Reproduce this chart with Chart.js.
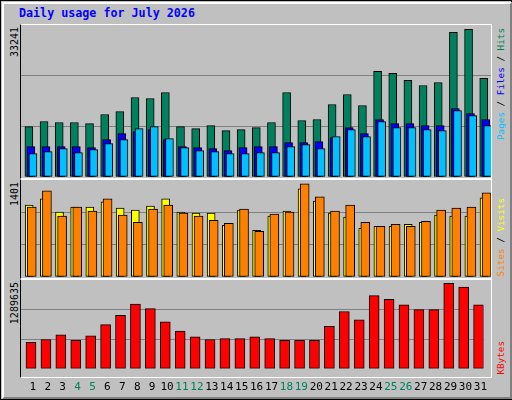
<!DOCTYPE html>
<html><head><meta charset="utf-8">
<script src="https://cdn.jsdelivr.net/npm/chart.js@4"></script>
<style>
body{margin:0;width:512px;height:400px;overflow:hidden;background:#C0C0C0;font-family:"DejaVu Sans Mono",monospace}
#frame{position:absolute;left:0;top:0;width:510px;height:398px;border:1px solid #000;background:#C0C0C0}
#bevel{position:absolute;left:1px;top:1px;width:506px;height:393px;border-top:2px solid #fff;border-left:2px solid #fff;border-right:2px solid #808080;border-bottom:2px solid #808080}
.panel{position:absolute;left:20px;width:470px;border-top:1px solid #fff;border-left:1px solid #000;border-right:1px solid #fff;border-bottom:1px solid #fff}
.cv{position:absolute;left:21px;width:470px}
.vt{position:absolute;writing-mode:vertical-rl;transform:rotate(180deg);white-space:nowrap}
#title{position:absolute;left:19px;top:6px;color:#0000FF;font-weight:bold;font-size:11.7px}
</style></head><body>
<div id="frame"><div id="bevel"></div></div>
<div id="title">Daily usage for July 2026</div>
<div class="panel" style="top:24px;height:153px"></div>
<div class="panel" style="top:179px;height:98px"></div>
<div class="panel" style="top:279px;height:97px"></div>
<div class="cv" style="top:25px;height:152px"><canvas id="c1"></canvas></div>
<div class="cv" style="top:180px;height:97px"><canvas id="c2"></canvas></div>
<div class="cv" style="top:280px;height:118px"><canvas id="c3"></canvas></div>
<div class="vt" style="left:9px;top:27px;font-size:10px">33241</div>
<div class="vt" style="left:9px;top:182px;font-size:10px">1401</div>
<div class="vt" style="left:9px;top:282px;font-size:10px">1289635</div>
<div class="vt" style="left:495px;top:28px;font-size:9.3px"><span style="color:#00C0FF">Pages</span> / <span style="color:#0000FF">Files</span> / <span style="color:#00805C">Hits</span></div>
<div class="vt" style="left:495px;top:198px;font-size:9.3px"><span style="color:#FF8000">Sites</span> / <span style="color:#FFFF00">Visits</span></div>
<div class="vt" style="left:495px;top:341px;font-size:9.3px"><span style="color:#FF0000">KBytes</span></div>
<script>
const days=[1,2,3,4,5,6,7,8,9,10,11,12,13,14,15,16,17,18,19,20,21,22,23,24,25,26,27,28,29,30,31];
const weekends=[4,5,11,12,18,19,25,26];
const hits=[11032,12128,11909,11909,11690,13662,14320,17388,17169,18484,11032,10594,11251,10155,10374,10813,11909,18484,12347,12566,15854,18046,15635,23087,22649,21114,20018,20676,31635,32292,21553];
const files=[6648,6648,6648,6648,6429,8183,9498,9936,10374,8183,6648,6429,6210,5772,6429,6648,6648,7525,7525,7744,8621,10813,9498,12566,11690,11690,11251,11251,14977,13881,12566];
const pages=[5114,5553,6210,5333,5991,7306,8183,10594,11032,8402,6429,5772,5553,5114,5114,5333,5333,6648,7087,6210,8840,10374,8840,12128,10813,10813,10374,10155,14539,13443,11251];
const visits=[1040,1128,937,1010,1010,1084,996,966,1025,1128,937,922,922,747,966,674,879,952,1274,1098,922,864,703,732,732,761,791,893,879,879,1142];
const sites=[1010,1245,879,1010,952,1128,893,791,981,1040,922,879,820,776,981,659,908,937,1347,1157,952,1040,791,732,761,732,805,966,996,1010,1215];
const kbytes=[384600,425350,493200,411800,479650,642550,778300,941200,873300,683300,547500,466100,425350,438900,438900,466100,438900,411800,411800,411800,615400,832600,710400,1063400,1009100,927600,859750,859750,1239850,1185550,927600];
const maxTop=33241,maxMid=1401,maxBot=1289635;

function ds(vals,dx,color,w,order){
  return {data:vals.map((v,i)=>({x:days[i]+dx,y:v})),backgroundColor:color,borderColor:'#000',
    borderWidth:1,borderSkipped:false,barThickness:w,grouped:false,order:order};
}
function opts(max,showX){
  return {responsive:true,maintainAspectRatio:false,animation:false,
    layout:{padding:0},
    plugins:{legend:{display:false},tooltip:{enabled:false}},
    scales:{
      x:{type:'linear',offset:false,min:0.21,max:31.21,display:showX,
        afterBuildTicks:a=>{a.ticks=days.map(d=>({value:d}));},
        grid:{display:false,offset:false},border:{display:false},
        ticks:{autoSkip:false,maxRotation:0,padding:4,font:{family:'DejaVu Sans Mono',size:11},
          color:c=>weekends.includes(c.tick.value)?'#00805C':'#000'}},
      y:{min:0,max:max,afterBuildTicks:a=>{a.ticks=[0,max/3,2*max/3,max].map(v=>({value:v}));},
        ticks:{display:false},border:{display:false},
        grid:{drawTicks:false,lineWidth:1,color:c=>(c.index===1||c.index===2)?'#808080':'rgba(0,0,0,0)'}}
    }};
}
new Chart(document.getElementById('c1'),{type:'bar',data:{datasets:[
  ds(hits,-0.27,'#00805C',8,2),ds(files,-0.14,'#0000FF',8,1),ds(pages,0,'#00C0FF',8,0)]},options:opts(maxTop,false)});
new Chart(document.getElementById('c2'),{type:'bar',data:{datasets:[
  ds(visits,-0.25,'#FFFF00',8,1),ds(sites,-0.08,'#FF8000',9,0)]},options:opts(maxMid,false)});
new Chart(document.getElementById('c3'),{type:'bar',data:{datasets:[
  ds(kbytes,-0.12,'#FF0000',10,0)]},options:opts(maxBot,true)});
</script>
</body></html>
